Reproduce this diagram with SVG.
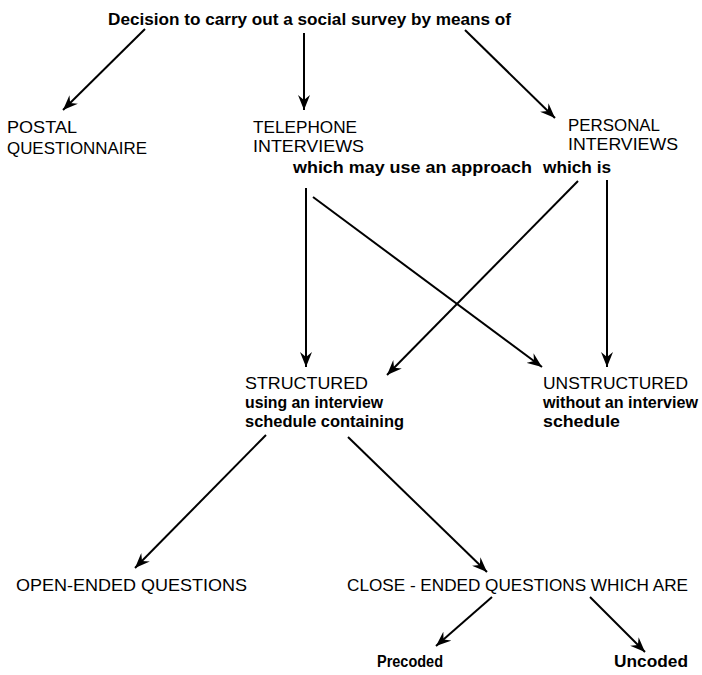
<svg xmlns="http://www.w3.org/2000/svg" width="702" height="675" viewBox="0 0 702 675">
<style>
text{font-family:"Liberation Sans",Arial,sans-serif;fill:#000}
.cap{font-size:17px}
.low{font-size:16px;font-weight:bold}
.con line{stroke:#000;stroke-width:2;fill:none}
</style>
<defs>
<marker id="ah" markerUnits="userSpaceOnUse" markerWidth="16" markerHeight="12" refX="15" refY="6" orient="auto">
<path d="M0,0 L15,6 L0,12 L5,6 Z" fill="#000"/>
</marker>
</defs>
<rect width="702" height="675" fill="#fff"/>
<g id="connectors" class="con">
<line x1="145" y1="29" x2="63" y2="110" marker-end="url(#ah)"/>
<line x1="304" y1="33" x2="304" y2="110" marker-end="url(#ah)"/>
<line x1="465" y1="30" x2="555" y2="118" marker-end="url(#ah)"/>
<line x1="306" y1="188" x2="306" y2="367" marker-end="url(#ah)"/>
<line x1="313" y1="197" x2="542" y2="367" marker-end="url(#ah)"/>
<line x1="578" y1="181" x2="387" y2="375" marker-end="url(#ah)"/>
<line x1="607" y1="180" x2="607" y2="367" marker-end="url(#ah)"/>
<line x1="266" y1="435" x2="135" y2="568" marker-end="url(#ah)"/>
<line x1="348" y1="437" x2="487" y2="572" marker-end="url(#ah)"/>
<line x1="492" y1="597" x2="436" y2="646" marker-end="url(#ah)"/>
<line x1="590" y1="597" x2="645" y2="652" marker-end="url(#ah)"/>
</g>
<g id="decision"><text class="low" x="108" y="25" textLength="403" lengthAdjust="spacingAndGlyphs">Decision to carry out a social survey by means of</text></g>
<g id="postal">
<text class="cap" x="7" y="133" textLength="70" lengthAdjust="spacingAndGlyphs">POSTAL</text>
<text class="cap" x="7" y="154" textLength="140" lengthAdjust="spacingAndGlyphs">QUESTIONNAIRE</text>
</g>
<g id="telephone">
<text class="cap" x="253" y="133" textLength="104" lengthAdjust="spacingAndGlyphs">TELEPHONE</text>
<text class="cap" x="253" y="152" textLength="111" lengthAdjust="spacingAndGlyphs">INTERVIEWS</text>
</g>
<g id="personal">
<text class="cap" x="568" y="131" textLength="92" lengthAdjust="spacingAndGlyphs">PERSONAL</text>
<text class="cap" x="568" y="150" textLength="110" lengthAdjust="spacingAndGlyphs">INTERVIEWS</text>
</g>
<g id="approach">
<text class="low" x="293" y="173" textLength="239" lengthAdjust="spacingAndGlyphs">which may use an approach</text>
<text class="low" x="543" y="173" textLength="68" lengthAdjust="spacingAndGlyphs">which is</text>
</g>
<g id="structured">
<text class="cap" x="245" y="389" textLength="123" lengthAdjust="spacingAndGlyphs">STRUCTURED</text>
<text class="low" x="245" y="408" textLength="138" lengthAdjust="spacingAndGlyphs">using an interview</text>
<text class="low" x="245" y="427" textLength="159" lengthAdjust="spacingAndGlyphs">schedule containing</text>
</g>
<g id="unstructured">
<text class="cap" x="543" y="389" textLength="145" lengthAdjust="spacingAndGlyphs">UNSTRUCTURED</text>
<text class="low" x="543" y="408" textLength="155" lengthAdjust="spacingAndGlyphs">without an interview</text>
<text class="low" x="543" y="427" textLength="77" lengthAdjust="spacingAndGlyphs">schedule</text>
</g>
<g id="open-ended"><text class="cap" x="16" y="591" textLength="231" lengthAdjust="spacingAndGlyphs">OPEN-ENDED QUESTIONS</text></g>
<g id="close-ended"><text class="cap" x="347" y="591" textLength="341" lengthAdjust="spacingAndGlyphs">CLOSE - ENDED QUESTIONS WHICH ARE</text></g>
<g id="precoded"><text class="low" x="377" y="667" textLength="66" lengthAdjust="spacingAndGlyphs">Precoded</text></g>
<g id="uncoded"><text class="low" x="614" y="667" textLength="74" lengthAdjust="spacingAndGlyphs">Uncoded</text></g>
</svg>
